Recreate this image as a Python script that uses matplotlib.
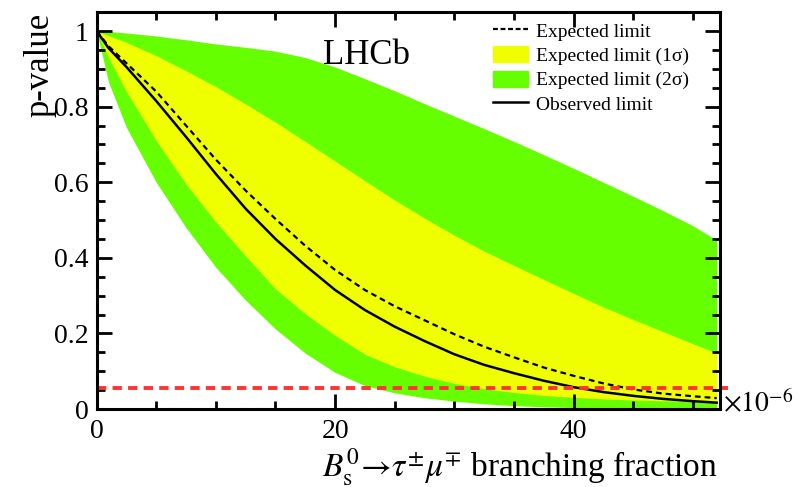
import numpy as np
import matplotlib
matplotlib.use('Agg')
import matplotlib.pyplot as plt
from matplotlib.lines import Line2D
from matplotlib.patches import Patch
from matplotlib.ticker import MultipleLocator

plt.rcParams['font.family'] = ['Liberation Serif', 'DejaVu Serif']
plt.rcParams['mathtext.fontset'] = 'stix'

# branching fraction (x 1e-6)
bf = [0, 1, 2.5, 5, 7.5, 10, 12.5, 15, 17.5, 20, 22.5, 25, 27.5, 30, 32.5, 35, 37.5, 40, 42.5, 45, 47.5, 50, 52]

observed = [1.0, 0.955, 0.905, 0.815, 0.72, 0.622, 0.53, 0.45, 0.38, 0.315, 0.262, 0.218, 0.18, 0.145,
            0.117, 0.095, 0.075, 0.058, 0.045, 0.035, 0.027, 0.021, 0.017]
expected = [1.0, 0.96, 0.915, 0.84, 0.75, 0.66, 0.578, 0.503, 0.432, 0.368, 0.315, 0.272, 0.235, 0.198,
            0.165, 0.137, 0.11, 0.088, 0.068, 0.052, 0.041, 0.034, 0.029]
up1 = [1.0, 0.988, 0.97, 0.935, 0.895, 0.853, 0.807, 0.759, 0.708, 0.656, 0.604, 0.553, 0.505, 0.46,
       0.418, 0.38, 0.343, 0.306, 0.27, 0.237, 0.205, 0.173, 0.148]
lo1 = [1.0, 0.93, 0.84, 0.71, 0.595, 0.495, 0.405, 0.318, 0.252, 0.195, 0.145, 0.112, 0.087, 0.068,
       0.054, 0.044, 0.036, 0.031, 0.027, 0.024, 0.022, 0.021, 0.02]
up2 = [1.0, 0.999, 0.995, 0.987, 0.977, 0.966, 0.957, 0.947, 0.93, 0.905, 0.874, 0.842, 0.808, 0.775,
       0.742, 0.708, 0.673, 0.637, 0.60, 0.563, 0.525, 0.485, 0.447]
lo2 = [1.0, 0.865, 0.745, 0.60, 0.48, 0.375, 0.288, 0.212, 0.148, 0.097, 0.062, 0.043, 0.03, 0.021,
       0.014, 0.009, 0.006, 0.004, 0.002, 0.001, 0.001, 0.0, 0.0]

cl_line = 0.055

yellow = '#f0ff00'
green = '#66ff00'

fig = plt.figure(figsize=(8.12, 4.87), dpi=100)
ax = fig.add_axes([0.119, 0.160, 0.768, 0.815])

ax.fill_between(bf, lo2, up2, color=green, lw=0)
ax.fill_between(bf, lo1, up1, color=yellow, lw=0)
ax.plot(bf, expected, color='black', lw=1.6, dashes=(2.6, 1.8))
ax.plot(bf, observed, color='black', lw=1.8)
ax.axhline(cl_line, xmin=0, xmax=1.012, color='#ff3333', lw=2.8, dashes=(2.4, 1.6), clip_on=False)

ax.set_xlim(0, 52.3)
ax.set_ylim(0, 1.05)
ax.xaxis.set_major_locator(MultipleLocator(20))
ax.xaxis.set_minor_locator(MultipleLocator(5))
ax.yaxis.set_minor_locator(MultipleLocator(0.05))
ax.set_yticks([0, 0.2, 0.4, 0.6, 0.8, 1.0])
ax.set_yticklabels(['0', '0.2', '0.4', '0.6', '0.8', '1'])
ax.tick_params(which='both', direction='in', top=True, right=True, width=2, labelsize=20)
ax.tick_params(which='major', length=11)
ax.tick_params(axis='x', which='major', pad=7)
ax.tick_params(axis='y', which='major', pad=6)
ax.tick_params(which='minor', length=6)
for s in ax.spines.values():
    s.set_linewidth(2.2)

fig.text(323 / 812, 1 - 64 / 487, 'LHCb', fontsize=25, ha='left', va='baseline')

handles = [Line2D([], [], color='black', lw=1.6, dashes=(2.2, 1.2)),
           Patch(color=yellow), Patch(color=green),
           Line2D([], [], color='black', lw=1.8)]
labels = ['Expected limit', 'Expected limit (1\u03c3)', 'Expected limit (2\u03c3)', 'Observed limit']
fig.legend(handles, labels, loc='upper left', bbox_to_anchor=(493 / 812, 1 - 22 / 487), frameon=False,
           fontsize=14, borderpad=0, borderaxespad=0, handlelength=1.8, handleheight=0.9,
           handletextpad=0.4, labelspacing=0.28)

fig.text(40 / 812, 1 - 13 / 487, 'p-value', rotation=90, ha='center', va='top', fontsize=25)
fig.text(718 / 812, 1 - 476 / 487, r'$B^{0}_{\rm s}\!\rightarrow\!\tau^{\pm}\mu^{\mp}$ branching fraction',
         ha='right', va='baseline', fontsize=24)
fig.text(723 / 812, 1 - 404 / 487, r'$\times10^{-6}$', ha='left', va='center', fontsize=20)

fig.savefig('out.png', dpi=100)
